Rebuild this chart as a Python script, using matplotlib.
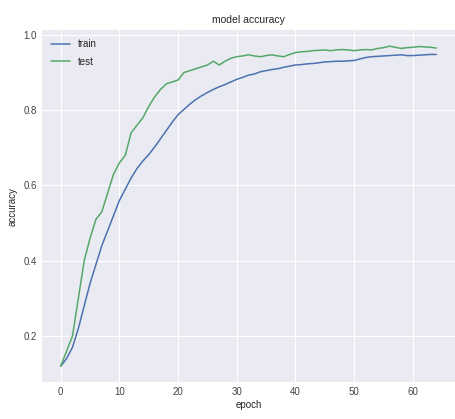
import matplotlib
matplotlib.use("Agg")
import matplotlib.pyplot as plt

# accuracy per epoch
epochs = list(range(65))
train_acc = [0.12, 0.14, 0.17, 0.22, 0.28, 0.34, 0.39, 0.44, 0.48, 0.52,
             0.56, 0.59, 0.62, 0.645, 0.665, 0.682, 0.702, 0.724, 0.746, 0.768,
             0.788, 0.802, 0.816, 0.828, 0.838, 0.847, 0.855, 0.862, 0.868, 0.875,
             0.882, 0.887, 0.893, 0.896, 0.902, 0.905, 0.908, 0.910, 0.914, 0.917,
             0.920, 0.921, 0.923, 0.924, 0.926, 0.928, 0.929, 0.930, 0.930, 0.931,
             0.932, 0.936, 0.940, 0.942, 0.943, 0.944, 0.945, 0.946, 0.947, 0.945,
             0.945, 0.946, 0.947, 0.948, 0.948]
test_acc = [0.12, 0.16, 0.20, 0.30, 0.40, 0.46, 0.51, 0.53, 0.58, 0.63,
            0.66, 0.68, 0.74, 0.76, 0.78, 0.81, 0.835, 0.855, 0.87, 0.875,
            0.88, 0.90, 0.905, 0.91, 0.915, 0.92, 0.93, 0.92, 0.93, 0.938,
            0.942, 0.944, 0.947, 0.944, 0.942, 0.945, 0.947, 0.944, 0.942, 0.948,
            0.953, 0.955, 0.956, 0.958, 0.959, 0.960, 0.958, 0.960, 0.961, 0.960,
            0.958, 0.960, 0.961, 0.960, 0.964, 0.966, 0.970, 0.967, 0.964, 0.966,
            0.967, 0.969, 0.968, 0.967, 0.965]

plt.style.use("seaborn-v0_8-darkgrid")
plt.rcParams["font.family"] = ["Liberation Sans", "DejaVu Sans"]

fig = plt.figure(figsize=(4.56, 4.19), dpi=100)
ax = fig.add_axes([0.092, 0.088, 0.906, 0.84])
ax.plot(epochs, train_acc, color="#4C72B0", linewidth=1.1, label="train")
ax.plot(epochs, test_acc, color="#55A868", linewidth=1.1, label="test")

ax.set_title("model accuracy", fontsize=7.5, pad=5)
ax.set_xlabel("epoch", fontsize=7, labelpad=2)
ax.set_ylabel("accuracy", fontsize=7, labelpad=4)
ax.set_xticks([0, 10, 20, 30, 40, 50, 60])
ax.set_yticks([0.2, 0.4, 0.6, 0.8, 1.0])
ax.tick_params(labelsize=7, colors="#444444")
ax.legend(loc="upper left", fontsize=7, frameon=False, labelspacing=0.8)

fig.savefig("out.png", dpi=100)
